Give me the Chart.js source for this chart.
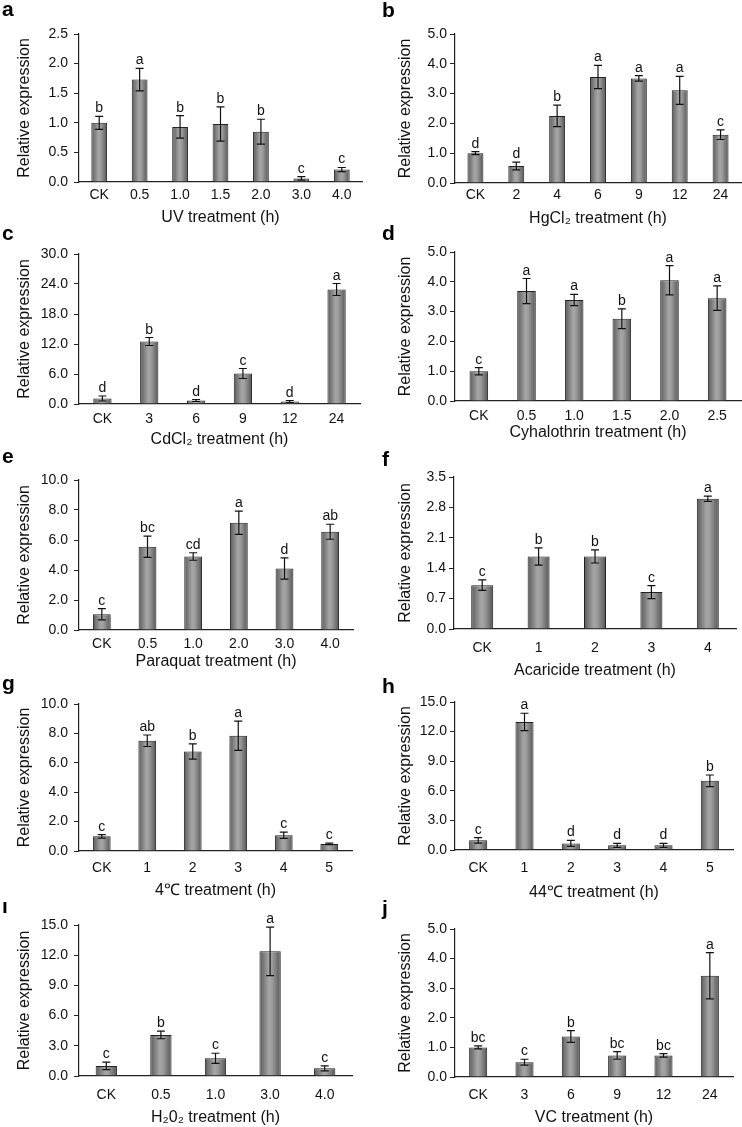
<!DOCTYPE html>
<html>
<head>
<meta charset="utf-8">
<script src="https://cdn.jsdelivr.net/npm/chart.js@4.4.1/dist/chart.umd.min.js"></script>
<style>
  html, body { margin: 0; padding: 0; background: #fff; }
  #figure { position: relative; width: 742px; height: 1127px; overflow: hidden; }
  #figure canvas { position: absolute; }
</style>
</head>
<body>
<div id="figure"></div>
<script>
// a - UV
const uvLabels = ['CK', '0.5', '1.0', '1.5', '2.0', '3.0', '4.0'];
const uvMeans = [1.0, 1.73, 0.93, 0.98, 0.85, 0.06, 0.21];
const uvErrors = [0.11, 0.19, 0.19, 0.29, 0.21, 0.03, 0.035];
const uvGroups = ['b', 'a', 'b', 'b', 'b', 'c', 'c'];
const uvTicks = [0, 0.5, 1.0, 1.5, 2.0, 2.5];

// b - HgCl2
const hgLabels = ['CK', '2', '4', '6', '9', '12', '24'];
const hgMeans = [1.0, 0.57, 2.25, 3.56, 3.51, 3.11, 1.62];
const hgErrors = [0.05, 0.13, 0.36, 0.39, 0.09, 0.47, 0.16];
const hgGroups = ['d', 'd', 'b', 'a', 'a', 'a', 'c'];
const hgTicks = [0, 1, 2, 3, 4, 5];

// c - CdCl2
const cdLabels = ['CK', '3', '6', '9', '12', '24'];
const cdMeans = [1.1, 12.5, 0.7, 6.1, 0.5, 22.9];
const cdErrors = [0.5, 0.8, 0.2, 1.0, 0.2, 1.2];
const cdGroups = ['d', 'b', 'd', 'c', 'd', 'a'];
const cdTicks = [0, 6, 12, 18, 24, 30];

// d - Cyhalothrin
const cyLabels = ['CK', '0.5', '1.0', '1.5', '2.0', '2.5'];
const cyMeans = [1.0, 3.69, 3.39, 2.76, 4.05, 3.45];
const cyErrors = [0.12, 0.42, 0.19, 0.33, 0.49, 0.41];
const cyGroups = ['c', 'a', 'a', 'b', 'a', 'a'];
const cyTicks = [0, 1, 2, 3, 4, 5];

// e - Paraquat
const pqLabels = ['CK', '0.5', '1.0', '2.0', '3.0', '4.0'];
const pqMeans = [1.05, 5.55, 4.9, 7.15, 4.1, 6.55];
const pqErrors = [0.37, 0.71, 0.25, 0.77, 0.71, 0.5];
const pqGroups = ['c', 'bc', 'cd', 'a', 'd', 'ab'];
const pqTicks = [0, 2, 4, 6, 8, 10];

// f - Acaricide
const acLabels = ['CK', '1', '2', '3', '4'];
const acMeans = [1.01, 1.67, 1.67, 0.85, 3.0];
const acErrors = [0.12, 0.2, 0.15, 0.15, 0.06];
const acGroups = ['c', 'b', 'b', 'c', 'a'];
const acTicks = [0, 0.7, 1.4, 2.1, 2.8, 3.5];

// g - 4 degrees
const coldLabels = ['CK', '1', '2', '3', '4', '5'];
const coldMeans = [1.0, 7.5, 6.77, 7.84, 1.07, 0.48];
const coldErrors = [0.12, 0.39, 0.52, 1.0, 0.21, 0.05];
const coldGroups = ['c', 'ab', 'b', 'a', 'c', 'c'];
const coldTicks = [0, 2, 4, 6, 8, 10];

// h - 44 degrees
const heatLabels = ['CK', '1', '2', '3', '4', '5'];
const heatMeans = [0.98, 12.98, 0.67, 0.47, 0.47, 7.01];
const heatErrors = [0.28, 0.88, 0.3, 0.2, 0.2, 0.59];
const heatGroups = ['c', 'a', 'd', 'd', 'd', 'b'];
const heatTicks = [0, 3, 6, 9, 12, 15];

// i - H2O2
const h2o2Labels = ['CK', '0.5', '1.0', '3.0', '4.0'];
const h2o2Means = [1.0, 4.08, 1.76, 12.38, 0.76];
const h2o2Errors = [0.37, 0.38, 0.5, 2.4, 0.25];
const h2o2Groups = ['c', 'b', 'c', 'a', 'c'];
const h2o2Ticks = [0, 3, 6, 9, 12, 15];

// j - VC
const vcLabels = ['CK', '3', '6', '9', '12', '24'];
const vcMeans = [1.0, 0.5, 1.37, 0.73, 0.73, 3.42];
const vcErrors = [0.05, 0.1, 0.2, 0.13, 0.06, 0.78];
const vcGroups = ['bc', 'c', 'b', 'bc', 'bc', 'a'];
const vcTicks = [0, 1, 2, 3, 4, 5];

const FONT = '"Liberation Sans", Arial, Helvetica, sans-serif';
const CANVAS_W = 371;
const CANVAS_H = 240;

// panel boxes on the page; axis positions are local to the box
var panels = [
  { letter: 'a', title: 'UV treatment (h)', labels: uvLabels, means: uvMeans, errors: uvErrors, groups: uvGroups, ticks: uvTicks,
    left: 0, top: 0, axisL: 79, axisT: 34, axisB: 182, axisR: 362, letterX: 2, letterY: 16, yTitleX: 25, xTickGap: 13, xTitleY: 217, gap: 6 },
  { letter: 'b', title: 'HgCl₂ treatment (h)', labels: hgLabels, means: hgMeans, errors: hgErrors, groups: hgGroups, ticks: hgTicks,
    left: 371, top: 0, axisL: 84, axisT: 34, axisB: 183, axisR: 370, letterX: 11, letterY: 17, yTitleX: 35, xTickGap: 12, xTitleY: 218, gap: 3 },
  { letter: 'c', title: 'CdCl₂ treatment (h)', labels: cdLabels, means: cdMeans, errors: cdErrors, groups: cdGroups, ticks: cdTicks,
    left: 0, top: 225, axisL: 79, axisT: 29, axisB: 179, axisR: 360, letterX: 2, letterY: 15, yTitleX: 25, xTickGap: 15, xTitleY: 214, gap: 6 },
  { letter: 'd', title: 'Cyhalothrin treatment (h)', labels: cyLabels, means: cyMeans, errors: cyErrors, groups: cyGroups, ticks: cyTicks,
    left: 371, top: 225, axisL: 84, axisT: 27, axisB: 176, axisR: 370, letterX: 11, letterY: 15, yTitleX: 35, xTickGap: 15, xTitleY: 207, gap: 3 },
  { letter: 'e', title: 'Paraquat treatment (h)', labels: pqLabels, means: pqMeans, errors: pqErrors, groups: pqGroups, ticks: pqTicks,
    left: 0, top: 450, axisL: 79, axisT: 30, axisB: 180, axisR: 353, letterX: 2, letterY: 13, yTitleX: 25, xTickGap: 14, xTitleY: 211, gap: 6 },
  { letter: 'f', title: 'Acaricide treatment (h)', labels: acLabels, means: acMeans, errors: acErrors, groups: acGroups, ticks: acTicks,
    left: 371, top: 450, axisL: 83, axisT: 27, axisB: 179, axisR: 365, letterX: 11, letterY: 16, yTitleX: 35, xTickGap: 19, xTitleY: 220, gap: 3 },
  { letter: 'g', title: '4℃ treatment (h)', labels: coldLabels, means: coldMeans, errors: coldErrors, groups: coldGroups, ticks: coldTicks,
    left: 0, top: 675, axisL: 79, axisT: 29, axisB: 176, axisR: 352, letterX: 2, letterY: 15, yTitleX: 25, xTickGap: 17, xTitleY: 215, gap: 6 },
  { letter: 'h', title: '44℃ treatment (h)', labels: heatLabels, means: heatMeans, errors: heatErrors, groups: heatGroups, ticks: heatTicks,
    left: 371, top: 675, axisL: 84, axisT: 27, axisB: 175, axisR: 362, letterX: 11, letterY: 18, yTitleX: 35, xTickGap: 18, xTitleY: 217, gap: 3 },
  { letter: 'i', title: 'H₂0₂ treatment (h)', labels: h2o2Labels, means: h2o2Means, errors: h2o2Errors, groups: h2o2Groups, ticks: h2o2Ticks,
    left: 0, top: 900, axisL: 79, axisT: 25, axisB: 176, axisR: 352, letterX: 2, letterY: 13, yTitleX: 25, xTickGap: 19, xTitleY: 217, gap: 6 },
  { letter: 'j', title: 'VC treatment (h)', labels: vcLabels, means: vcMeans, errors: vcErrors, groups: vcGroups, ticks: vcTicks,
    left: 371, top: 900, axisL: 84, axisT: 29, axisB: 177, axisR: 362, letterX: 11, letterY: 15, yTitleX: 35, xTickGap: 18, xTitleY: 217, gap: 3 }
];

// cylinder-like shading on each bar
const barShade = {
  id: 'barShade',
  beforeDatasetsDraw: function (chart) {
    const ctx = chart.ctx;
    chart.getDatasetMeta(0).data.forEach(function (bar) {
      const x0 = bar.x - bar.width / 2, x1 = bar.x + bar.width / 2;
      const g = ctx.createLinearGradient(x0, 0, x1, 0);
      g.addColorStop(0, '#5a5a5a');
      g.addColorStop(0.45, '#a6a6a6');
      g.addColorStop(0.6, '#9c9c9c');
      g.addColorStop(1, '#555555');
      bar.options = Object.assign({}, bar.options, { backgroundColor: g });
    });
  }
};

// error bars, significance letters and panel letter
const annotations = {
  id: 'annotations',
  afterDatasetsDraw: function (chart, args, opts) {
    const ctx = chart.ctx;
    const y = chart.scales.y;
    const p = opts.panel;
    ctx.save();
    ctx.strokeStyle = '#111';
    ctx.lineWidth = 1.2;
    ctx.fillStyle = '#111';
    ctx.font = '14px ' + FONT;
    ctx.textAlign = 'center';
    ctx.textBaseline = 'alphabetic';
    chart.getDatasetMeta(0).data.forEach(function (bar, i) {
      const top = y.getPixelForValue(p.means[i] + p.errors[i]);
      const bot = y.getPixelForValue(Math.max(p.means[i] - p.errors[i], 0));
      ctx.beginPath();
      ctx.moveTo(bar.x, top); ctx.lineTo(bar.x, bot);
      ctx.moveTo(bar.x - 4, top); ctx.lineTo(bar.x + 4, top);
      ctx.moveTo(bar.x - 4, bot); ctx.lineTo(bar.x + 4, bot);
      ctx.stroke();
      ctx.fillText(p.groups[i], bar.x, top - 4);
    });
    ctx.restore();
  },
  afterDraw: function (chart, args, opts) {
    const ctx = chart.ctx;
    const p = opts.panel;
    ctx.save();
    ctx.fillStyle = '#000';
    ctx.font = 'bold 21px ' + FONT;
    ctx.textAlign = 'left';
    ctx.fillText(p.letter, p.letterX, p.letterY);
    ctx.restore();
  }
};

const fig = document.getElementById('figure');

panels.forEach(function (p) {
  const canvas = document.createElement('canvas');
  canvas.width = CANVAS_W;
  canvas.height = CANVAS_H;
  canvas.style.left = p.left + 'px';
  canvas.style.top = p.top + 'px';
  canvas.style.width = CANVAS_W + 'px';
  canvas.style.height = CANVAS_H + 'px';
  fig.appendChild(canvas);

  new Chart(canvas, {
    type: 'bar',
    data: {
      labels: p.labels,
      datasets: [{
        data: p.means,
        backgroundColor: '#8a8a8a',
        borderColor: '#222',
        borderWidth: 1,
        barPercentage: 0.39,
        categoryPercentage: 1.0
      }]
    },
    options: {
      responsive: false,
      animation: false,
      events: [],
      layout: {
        padding: { left: 0, top: p.axisT, right: CANVAS_W - p.axisR, bottom: 0 }
      },
      scales: {
        x: {
          offset: true,
          afterFit: function (s) { s.height = CANVAS_H - p.axisB; },
          grid: { display: false, drawTicks: false },
          border: { display: true, color: '#222', width: 1.2 },
          ticks: { color: '#111', padding: p.xTickGap - 8, maxRotation: 0, font: { family: FONT, size: 14 } },
          title: {
            display: true,
            text: p.title,
            color: '#111',
            font: { family: FONT, size: 16 },
            padding: { top: 0, bottom: CANVAS_H - p.xTitleY - 10 }
          }
        },
        y: {
          min: p.ticks[0],
          max: p.ticks[p.ticks.length - 1],
          afterFit: function (s) { s.width = p.axisL; },
          afterBuildTicks: function (s) {
            s.ticks = p.ticks.map(function (v) { return { value: v }; });
          },
          grid: { display: true, drawOnChartArea: false, drawTicks: true, tickLength: 5, color: '#222', lineWidth: 1 },
          border: { display: true, color: '#222', width: 1.2 },
          ticks: {
            color: '#111',
            padding: p.gap,
            font: { family: FONT, size: 14 },
            callback: function (v) { return Number(v).toFixed(1); }
          },
          title: {
            display: true,
            text: 'Relative expression',
            color: '#111',
            font: { family: FONT, size: 16 },
            padding: { top: p.yTitleX - 10, bottom: 0 }
          }
        }
      },
      plugins: {
        legend: { display: false },
        tooltip: { enabled: false },
        annotations: { panel: p }
      }
    },
    plugins: [barShade, annotations]
  });
});
</script>
</body>
</html>
